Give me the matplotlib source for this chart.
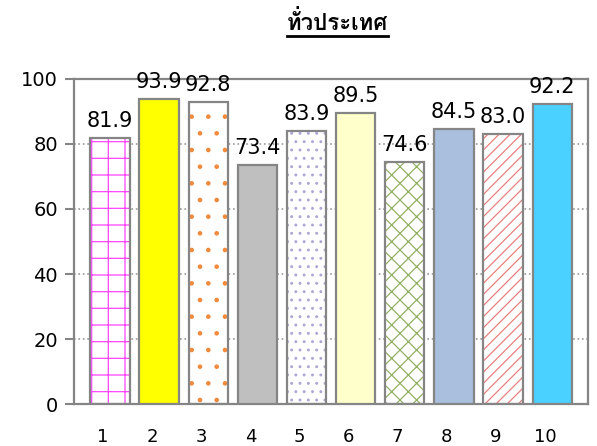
import numpy as np
import matplotlib
matplotlib.use("Agg")
import matplotlib.pyplot as plt
from matplotlib import font_manager
from matplotlib.transforms import ScaledTranslation
from matplotlib.lines import Line2D

# datos del gráfico
categories = ["1", "2", "3", "4", "5", "6", "7", "8", "9", "10"]
values = [81.9, 93.9, 92.8, 73.4, 83.9, 89.5, 74.6, 84.5, 83.0, 92.2]
title = "ทั่วประเทศ"
y_ticks = [0, 20, 40, 60, 80, 100]

# relleno de cada barra: (color de fondo, color del patrón, patrón)
fills = [
    ("white", "#FF44FF", "+"),
    ("#FFFF00", None, None),
    ("white", "#F28A3C", "."),
    ("#BFBFBF", None, None),
    ("white", "#B0A4D6", ".."),
    ("#FFFFCC", None, None),
    ("white", "#93B062", "xx"),
    ("#A9BFDD", None, None),
    ("white", "#E88080", "///"),
    ("#4BD1FF", None, None),
]


# busca una fuente que tenga caracteres tailandeses
def find_thai_font():
    try:
        from fontTools.ttLib import TTFont
    except Exception:
        return None
    for f in font_manager.fontManager.ttflist:
        try:
            tt = TTFont(f.fname, fontNumber=0, lazy=True)
            cmap = tt.getBestCmap()
            if cmap and 0x0E17 in cmap:
                return f.name
        except Exception:
            pass
    return None


thai_font = find_thai_font()
plt.rcParams["font.family"] = ["DejaVu Sans"]
plt.rcParams["hatch.linewidth"] = 0.9

fig = plt.figure(figsize=(5.97, 4.46), dpi=100)
ax = fig.add_axes([0.124, 0.094, 0.861, 0.729])

x = np.arange(1, len(values) + 1)
edge = "#858585"

for xi, v, (fc, hc, hatch) in zip(x, values, fills):
    if hatch:
        ax.bar(xi, v, width=0.8, color=fc, edgecolor=hc, hatch=hatch, linewidth=0, zorder=2)
        ax.bar(xi, v, width=0.8, color="none", edgecolor=edge, linewidth=1.6, zorder=3)
    else:
        ax.bar(xi, v, width=0.8, color=fc, edgecolor=edge, linewidth=1.6, zorder=3)
    ax.annotate("%.1f" % v, (xi, v), xytext=(0, 5), textcoords="offset points",
                ha="center", va="bottom", fontsize=15, annotation_clip=False)

ax.set_xlim(0.27, 10.73)
ax.set_ylim(0, 100)
ax.set_yticks(y_ticks)
ax.set_xticks(x)
ax.set_xticklabels(categories)
ax.tick_params(axis="x", length=0, pad=17, labelsize=13)
ax.tick_params(axis="y", length=6.5, width=1.5, color=edge, pad=5, labelsize=14)
ax.yaxis.grid(True, linestyle=":", color="#999999", linewidth=1.2, zorder=0)
ax.set_axisbelow(True)
for s in ax.spines.values():
    s.set_color(edge)
    s.set_linewidth(1.6)

# las etiquetas del eje x están un poco corridas a la izquierda
for lab in ax.get_xticklabels():
    lab.set_transform(lab.get_transform() + ScaledTranslation(-7 / 100, 0, fig.dpi_scale_trans))

# título subrayado
fam = [thai_font, "DejaVu Sans"] if thai_font else ["DejaVu Sans"]
t = fig.text(0.565, 0.95, title, ha="center", va="center", fontsize=16,
             fontweight="bold", family=fam)
fig.canvas.draw()
bb = t.get_window_extent().transformed(fig.transFigure.inverted())
fig.add_artist(Line2D([bb.x0, bb.x1], [bb.y0 - 0.004, bb.y0 - 0.004],
                      transform=fig.transFigure, color="black", linewidth=2))

fig.savefig("out.png", dpi=100)
